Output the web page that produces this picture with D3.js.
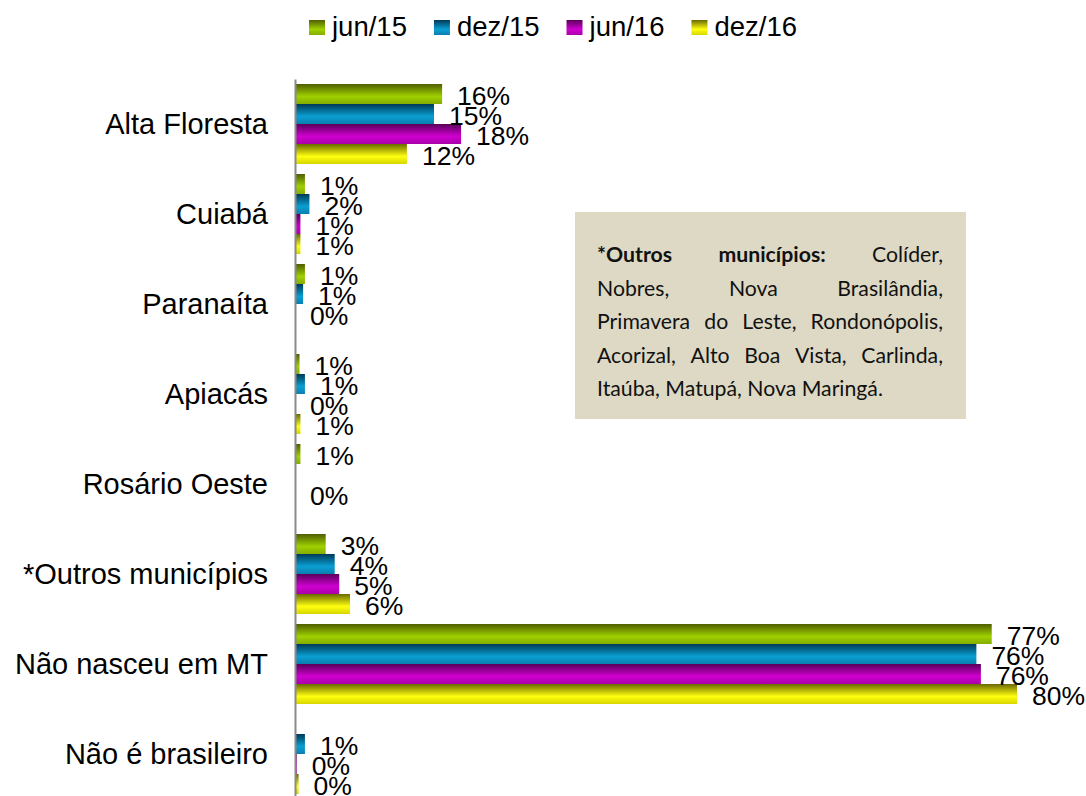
<!DOCTYPE html>
<html lang="pt-BR">
<head>
<meta charset="UTF-8">
<title>Naturalidade</title>
<script src="https://cdn.jsdelivr.net/npm/d3@7"></script>
<style>
  body { margin:0; background:#fff; }
  svg { display:block; font-family: Arial, "Liberation Sans", sans-serif; }
  .cat { font-size: 29px; fill:#000; }
  .val { font-size: 26.5px; fill:#000; }
  .leg { font-size: 27.5px; fill:#000; }
  .note { font-family: Lato, "Open Sans", sans-serif; fill:#111; }
</style>
</head>
<body>
<svg id="chart" width="1086" height="796"></svg>
<script>
// dados
const categories = ["Alta Floresta", "Cuiabá", "Paranaíta", "Apiacás", "Rosário Oeste",
                    "*Outros municípios", "Não nasceu em MT", "Não é brasileiro"];
const series = ["jun/15", "dez/15", "jun/16", "dez/16"];
const jun15 = [16.3, 1.1, 1.1, 0.5, 0.6, 3.4, 77.2, null];
const dez15 = [15.4, 1.6, 0.9, 1.1, null, 4.4, 75.5, 1.1];
const jun16 = [18.4, 0.6, 0, 0, 0, 4.9, 76.0, 0.2];
const dez16 = [12.4, 0.6, null, 0.6, null, 6.1, 80.0, 0.4];
const values = [jun15, dez15, jun16, dez16];

// nota (linhas como no original)
const noteLines = [
  "*Outros municípios: Colíder,",
  "Nobres, Nova Brasilândia,",
  "Primavera do Leste, Rondonópolis,",
  "Acorizal, Alto Boa Vista, Carlinda,",
  "Itaúba, Matupá, Nova Maringá."
];
const noteBoldWords = 2;

// cores (escuro, claro, meio)
const colors = [
  ["#4f5e00", "#9fd000", "#86ad00"],
  ["#003a58", "#0a9fd2", "#0a7fae"],
  ["#5a005a", "#d000d0", "#a800a8"],
  ["#6a6a00", "#ffff10", "#d6d600"]
];

const svg = d3.select("#chart");
const defs = svg.append("defs");
colors.forEach((c, i) => {
  const g = defs.append("linearGradient").attr("id", "g" + i)
    .attr("x1", 0).attr("y1", 0).attr("x2", 0).attr("y2", 1);
  g.append("stop").attr("offset", "0%").attr("stop-color", c[0]);
  g.append("stop").attr("offset", "62%").attr("stop-color", c[1]);
  g.append("stop").attr("offset", "100%").attr("stop-color", c[2]);
});

const x = d3.scaleLinear().domain([0, 80]).range([295, 1017]);
const y = d3.scaleBand().domain(categories).range([79, 799]);
const yi = d3.scaleBand().domain(series).range([0, y.bandwidth()]).paddingInner(0).paddingOuter(0.25);

// barras
series.forEach((s, si) => {
  const g = svg.append("g");
  categories.forEach((c, ci) => {
    const v = values[si][ci];
    if (v === null || v <= 0) return;
    g.append("rect")
      .attr("x", x(0)).attr("y", y(c) + yi(s))
      .attr("width", x(v) - x(0)).attr("height", yi.bandwidth())
      .attr("fill", `url(#g${si})`);
  });
});

// eixo
const axis = svg.append("g").attr("transform", `translate(${x(0)},0)`)
  .call(d3.axisLeft(y).tickSize(0).tickPadding(27));
axis.select(".domain").attr("stroke", "#8a8a8a").attr("stroke-width", 2);
axis.selectAll(".tick text").attr("class", "cat").attr("font-family", null).attr("font-size", null)
  .attr("dy", "0.36em");

// rótulos
series.forEach((s, si) => {
  categories.forEach((c, ci) => {
    const v = values[si][ci];
    if (v === null) return;
    svg.append("text").attr("class", "val")
      .attr("x", x(v) + 15)
      .attr("y", y(c) + yi(s) + yi.bandwidth() / 2 + 1)
      .attr("dy", "0.36em")
      .text(d3.format(".0f")(v) + "%");
  });
});

// legenda
let lx = 309;
series.forEach((s, i) => {
  svg.append("rect").attr("x", lx).attr("y", 20).attr("width", 16).attr("height", 15)
    .attr("fill", `url(#g${i})`);
  const t = svg.append("text").attr("class", "leg").attr("x", lx + 23).attr("y", 36).text(s);
  lx += 23 + t.node().getComputedTextLength() + 27;
});

// caixa de texto
const bx = 575, by = 212, bw = 391, bh = 207;
svg.append("rect").attr("x", bx).attr("y", by).attr("width", bw).attr("height", bh).attr("fill", "#ddd9c4");

const noteG = svg.append("g");
const measure = noteG.append("text").attr("class", "note").attr("font-size", 20);
function wWidth(w, bold) {
  measure.attr("font-weight", bold ? "bold" : null).text(w);
  return measure.node().getComputedTextLength();
}
// tamanho da fonte ajustado para a última linha ocupar a largura do original
const fs = 20 * 286 / wWidth(noteLines[noteLines.length - 1], false);
measure.attr("font-size", fs);
const spaceW = wWidth("a a", false) - wWidth("aa", false);

const left = 597, right = 943, lineW = right - left;
let wi = 0;
const lines = noteLines.map(l => l.split(" ").map(w => {
  const d = {w, bold: wi < noteBoldWords};
  wi++;
  d.width = wWidth(d.w, d.bold);
  return d;
}));
measure.remove();

lines.forEach((ln, li) => {
  const ly = 262 + li * 33.5;
  const total = d3.sum(ln, d => d.width);
  const last = li === lines.length - 1;
  const gap = (last || ln.length < 2) ? spaceW : (lineW - total) / (ln.length - 1);
  let cx = left;
  ln.forEach(d => {
    noteG.append("text").attr("class", "note").attr("font-size", fs).attr("x", cx).attr("y", ly)
      .attr("font-weight", d.bold ? "bold" : null).text(d.w);
    cx += d.width + gap;
  });
});
</script>
</body>
</html>
